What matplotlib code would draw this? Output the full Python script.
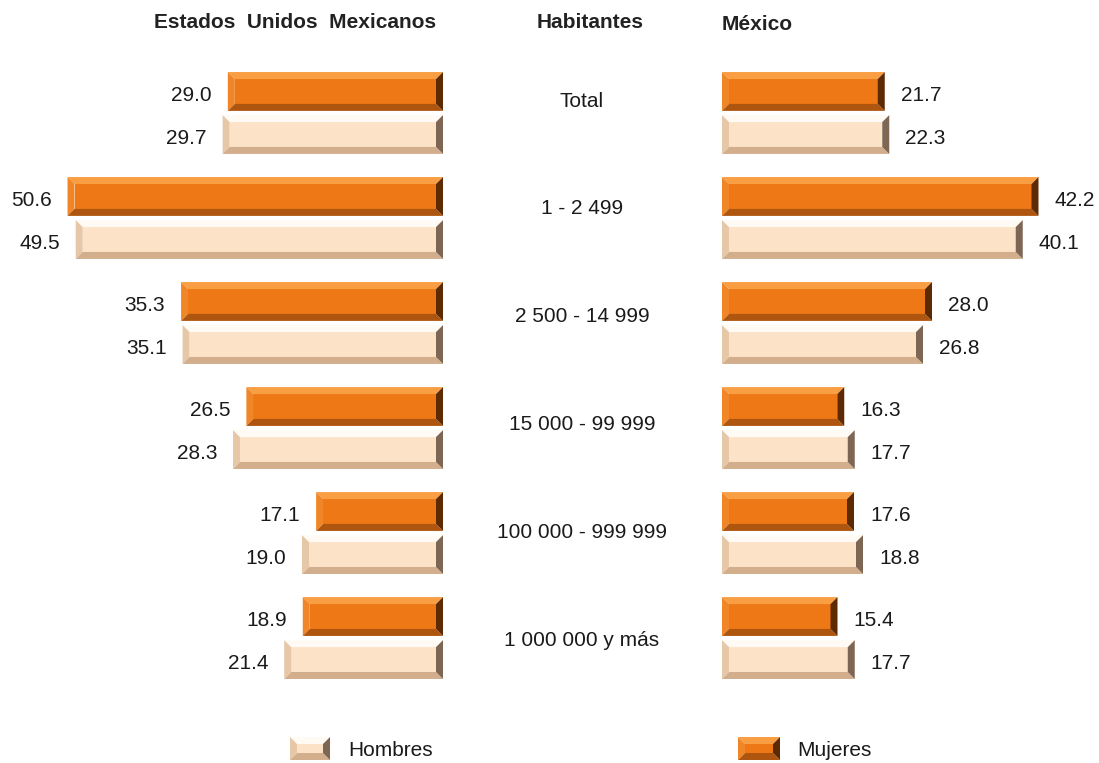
import matplotlib.pyplot as plt
from matplotlib.patches import Polygon
from matplotlib.transforms import IdentityTransform

plt.rcParams["font.family"] = ["Liberation Sans", "DejaVu Sans"]

categorias = ["Total", "1 - 2 499", "2 500 - 14 999", "15 000 - 99 999",
              "100 000 - 999 999", "1 000 000 y más"]
eum_mujeres = [29.0, 50.6, 35.3, 26.5, 17.1, 18.9]
eum_hombres = [29.7, 49.5, 35.1, 28.3, 19.0, 21.4]
mex_mujeres = [21.7, 42.2, 28.0, 16.3, 17.6, 15.4]
mex_hombres = [22.3, 40.1, 26.8, 17.7, 18.8, 17.7]

# colours: centre, top, left, bottom, right
MUJ = ["#EE7816", "#F99E42", "#F08628", "#AE550F", "#5E2A04"]
HOM = ["#FCE2C6", "#FFFBF4", "#E6C7A8", "#D2AE8C", "#7E6654"]

W, H = 1099, 763
fig = plt.figure(figsize=(W / 100, H / 100), dpi=100)

y_top, y_bot = -1.076, 6.19
ax_l = fig.add_axes([40 / W, 0, 403 / W, 1])
ax_r = fig.add_axes([722 / W, 0, 368 / W, 1])
ax_l.set_xlim(403 / 7.42, 0)
ax_r.set_xlim(0, 368 / 7.5)
for ax in (ax_l, ax_r):
    ax.set_ylim(y_bot, y_top)
    ax.axis("off")


def bevel_disp(x0, y0, x1, y1, cols, b=7):
    """Draw a bevelled box in display pixels (x0<x1, y0<y1)."""
    b = min(b, (y1 - y0) / 3)
    pts = {
        "c": [(x0 + b, y0 + b), (x1 - b, y0 + b), (x1 - b, y1 - b), (x0 + b, y1 - b)],
        "t": [(x0, y1), (x1, y1), (x1 - b, y1 - b), (x0 + b, y1 - b)],
        "l": [(x0, y0), (x0 + b, y0 + b), (x0 + b, y1 - b), (x0, y1)],
        "b": [(x0, y0), (x1, y0), (x1 - b, y0 + b), (x0 + b, y0 + b)],
        "r": [(x1, y0), (x1, y1), (x1 - b, y1 - b), (x1 - b, y0 + b)],
    }
    for key, col in zip(["c", "t", "l", "b", "r"], cols):
        fig.add_artist(Polygon(pts[key], closed=True, facecolor=col,
                               edgecolor="none", transform=IdentityTransform()))


def bevel_bar(ax, value, yc, h, cols):
    (xa, ya), (xb, yb) = ax.transData.transform([(0, yc - h / 2), (value, yc + h / 2)])
    bevel_disp(min(xa, xb), min(ya, yb), max(xa, xb), max(ya, yb), cols)


h = 0.37
off = 0.205
fs = 15
for i in range(len(categorias)):
    for ax, vals, cols, dy in [
        (ax_l, eum_mujeres, MUJ, -off), (ax_l, eum_hombres, HOM, off),
        (ax_r, mex_mujeres, MUJ, -off), (ax_r, mex_hombres, HOM, off),
    ]:
        v = vals[i]
        bevel_bar(ax, v, i + dy, h, cols)
        ha = "right" if ax is ax_l else "left"
        ax.text(v + 2.15, i + dy + 0.04, f"{v:.1f}", ha=ha, va="center",
                fontsize=fs, color="#1a1a1a")
    ax_l.text(1.345, 1.027 * i - 0.114, categorias[i],
              transform=ax_l.get_yaxis_transform(),
              ha="center", va="center", fontsize=fs, color="#1a1a1a")

# headers
hdr = dict(va="center", fontsize=15, fontweight="bold", color="#222222")
fig.text(295 / W, 1 - 22 / H, "Estados  Unidos  Mexicanos", ha="center", **hdr)
fig.text(590 / W, 1 - 22 / H, "Habitantes", ha="center", **hdr)
fig.text(722 / W, 1 - 25 / H, "México", ha="left", **hdr)

# legend
bevel_disp(290, H - 760, 330, H - 737, HOM, b=7)
fig.text(348 / W, 1 - 750 / H, "Hombres", ha="left", va="center", fontsize=fs,
         color="#1a1a1a")
bevel_disp(738, H - 760, 780, H - 737, MUJ, b=7)
fig.text(797 / W, 1 - 750 / H, "Mujeres", ha="left", va="center", fontsize=fs,
         color="#1a1a1a")

fig.savefig("out.png", dpi=100)
